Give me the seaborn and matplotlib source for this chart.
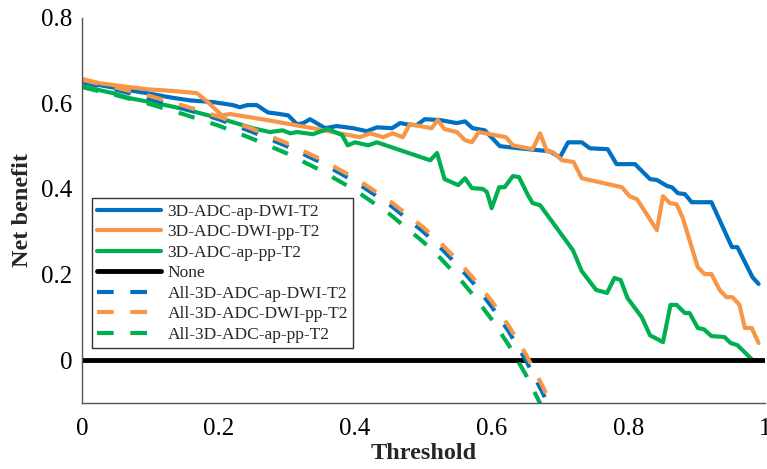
import matplotlib
matplotlib.use("Agg")
import matplotlib.pyplot as plt
import seaborn as sns
import pandas as pd

# Model curves
blue_x = [0, 0.060, 0.095, 0.129, 0.158, 0.192, 0.221, 0.231, 0.242, 0.256, 0.272, 0.290, 0.302,
          0.315, 0.324, 0.334, 0.356, 0.373, 0.397, 0.417, 0.432, 0.454, 0.466, 0.476, 0.490,
          0.502, 0.524, 0.549, 0.561, 0.572, 0.590, 0.612, 0.641, 0.685, 0.700, 0.712, 0.732,
          0.744, 0.770, 0.783, 0.810, 0.832, 0.842, 0.857, 0.864, 0.873, 0.883, 0.893, 0.922,
          0.952, 0.960, 0.982, 0.991]
blue_y = [0.650, 0.633, 0.624, 0.614, 0.607, 0.603, 0.596, 0.591, 0.596, 0.596, 0.579, 0.575, 0.572,
          0.551, 0.554, 0.563, 0.542, 0.547, 0.542, 0.535, 0.544, 0.542, 0.554, 0.551, 0.549,
          0.563, 0.561, 0.554, 0.558, 0.542, 0.537, 0.500, 0.495, 0.488, 0.474, 0.509, 0.509,
          0.495, 0.493, 0.458, 0.458, 0.423, 0.421, 0.407, 0.404, 0.390, 0.388, 0.369, 0.369,
          0.264, 0.264, 0.194, 0.178]

orange_x = [0, 0.026, 0.070, 0.095, 0.133, 0.168, 0.183, 0.192, 0.205, 0.217, 0.271, 0.338, 0.367,
            0.407, 0.422, 0.441, 0.455, 0.470, 0.480, 0.495, 0.512, 0.521, 0.531, 0.549, 0.561,
            0.571, 0.581, 0.621, 0.631, 0.660, 0.671, 0.681, 0.690, 0.703, 0.720, 0.732, 0.791,
            0.802, 0.813, 0.842, 0.851, 0.861, 0.871, 0.880, 0.902, 0.912, 0.922, 0.934, 0.944,
            0.953, 0.963, 0.971, 0.981, 0.991]
orange_y = [0.657, 0.647, 0.638, 0.633, 0.629, 0.624, 0.605, 0.591, 0.572, 0.575, 0.561, 0.542, 0.533,
            0.521, 0.530, 0.521, 0.530, 0.521, 0.551, 0.547, 0.542, 0.561, 0.540, 0.533, 0.514,
            0.509, 0.533, 0.521, 0.502, 0.493, 0.530, 0.488, 0.486, 0.467, 0.463, 0.425, 0.404,
            0.383, 0.376, 0.304, 0.383, 0.367, 0.364, 0.332, 0.217, 0.201, 0.201, 0.164, 0.147,
            0.147, 0.129, 0.075, 0.075, 0.040]

green_x = [0, 0.045, 0.070, 0.110, 0.143, 0.173, 0.202, 0.221, 0.250, 0.275, 0.294, 0.305, 0.315,
           0.338, 0.360, 0.381, 0.389, 0.400, 0.419, 0.432, 0.510, 0.520, 0.531, 0.551, 0.561,
           0.571, 0.587, 0.593, 0.600, 0.611, 0.619, 0.631, 0.640, 0.653, 0.660, 0.671, 0.719,
           0.732, 0.753, 0.769, 0.780, 0.789, 0.799, 0.820, 0.832, 0.851, 0.862, 0.871, 0.883,
           0.890, 0.902, 0.911, 0.922, 0.941, 0.950, 0.960, 0.981]
green_y = [0.640, 0.624, 0.612, 0.600, 0.589, 0.577, 0.565, 0.556, 0.542, 0.533, 0.537, 0.530, 0.533,
           0.528, 0.540, 0.526, 0.502, 0.509, 0.502, 0.509, 0.467, 0.484, 0.423, 0.409, 0.425,
           0.402, 0.400, 0.393, 0.355, 0.404, 0.404, 0.430, 0.428, 0.386, 0.367, 0.362, 0.257,
           0.208, 0.164, 0.157, 0.192, 0.187, 0.145, 0.100, 0.058, 0.042, 0.129, 0.129, 0.110,
           0.110, 0.075, 0.072, 0.056, 0.054, 0.040, 0.035, 0.002]

none_x = [0, 1]
none_y = [0, 0]

# Treat-all curves
all_x = [0, 0.05, 0.10, 0.15, 0.20, 0.25, 0.30, 0.35, 0.40, 0.45, 0.50, 0.525, 0.55, 0.575,
         0.60, 0.625, 0.65, 0.675, 0.70]
all_blue_y = [0.650, 0.632, 0.611, 0.588, 0.563, 0.533, 0.500, 0.462, 0.417, 0.364, 0.300, 0.263,
              0.222, 0.177, 0.125, 0.067, 0.000, -0.077, -0.167]
all_orange_y = [0.655, 0.637, 0.617, 0.594, 0.569, 0.540, 0.507, 0.469, 0.425, 0.373, 0.310, 0.274,
                0.233, 0.188, 0.138, 0.080, 0.014, -0.062, -0.150]
all_green_y = [0.638, 0.619, 0.598, 0.574, 0.548, 0.517, 0.483, 0.443, 0.397, 0.342, 0.276, 0.238,
               0.196, 0.148, 0.095, 0.035, -0.034, -0.114, -0.207]

c_blue, c_orange, c_green = "#0070C0", "#F79646", "#00B050"

sns.set_style("white")
plt.rcParams['font.family'] = ['Liberation Serif', 'DejaVu Serif']

fig = plt.figure(figsize=(7.67, 4.69), dpi=100)
ax = fig.add_axes([0.107, 0.141, 0.890, 0.821])

solid = [("3D-ADC-ap-DWI-T2", blue_x, blue_y, c_blue),
         ("3D-ADC-DWI-pp-T2", orange_x, orange_y, c_orange),
         ("3D-ADC-ap-pp-T2", green_x, green_y, c_green)]
for name, xs, ys, col in solid:
    sns.lineplot(x=xs, y=ys, ax=ax, color=col, linewidth=3, label=name,
                 estimator=None, sort=False)

sns.lineplot(x=none_x, y=none_y, ax=ax, color="black", linewidth=3.5, label="None",
             estimator=None, sort=False)

dashed = [("All-3D-ADC-ap-DWI-T2", all_blue_y, c_blue),
          ("All-3D-ADC-DWI-pp-T2", all_orange_y, c_orange),
          ("All-3D-ADC-ap-pp-T2", all_green_y, c_green)]
for name, ys, col in dashed:
    sns.lineplot(x=all_x, y=ys, ax=ax, color=col, linewidth=3, label=name,
                 linestyle=(0, (4, 4)), estimator=None, sort=False)

ax.set_xlim(0, 1)
ax.set_ylim(-0.1, 0.8)
ax.set_xticks([0, 0.2, 0.4, 0.6, 0.8, 1])
ax.set_xticklabels(["0", "0.2", "0.4", "0.6", "0.8", "1"])
ax.set_yticks([0, 0.2, 0.4, 0.6, 0.8])
ax.set_yticklabels(["0", "0.2", "0.4", "0.6", "0.8"])
ax.tick_params(direction="in", length=5, width=1, colors="#555555", labelcolor="black",
               labelsize=18)
ax.tick_params(axis="x", pad=11)
ax.tick_params(axis="y", pad=7)
for side in ["top", "right"]:
    ax.spines[side].set_visible(False)
for side in ["left", "bottom"]:
    ax.spines[side].set_color("#555555")
    ax.spines[side].set_linewidth(1)

ax.set_xlabel("Threshold", fontsize=17.5, fontweight="bold", labelpad=2)
ax.set_ylabel("Net benefit", fontsize=17.5, fontweight="bold", labelpad=6)

leg = ax.legend(loc="lower left", bbox_to_anchor=(0.0146, 0.143), fontsize=12.5,
                handlelength=3.7, handletextpad=0.35, labelspacing=0.25,
                borderpad=0.3, borderaxespad=0, fancybox=False, framealpha=1)
leg.get_frame().set_edgecolor("#333333")
leg.get_frame().set_linewidth(1)

fig.savefig("out.png", dpi=100)
